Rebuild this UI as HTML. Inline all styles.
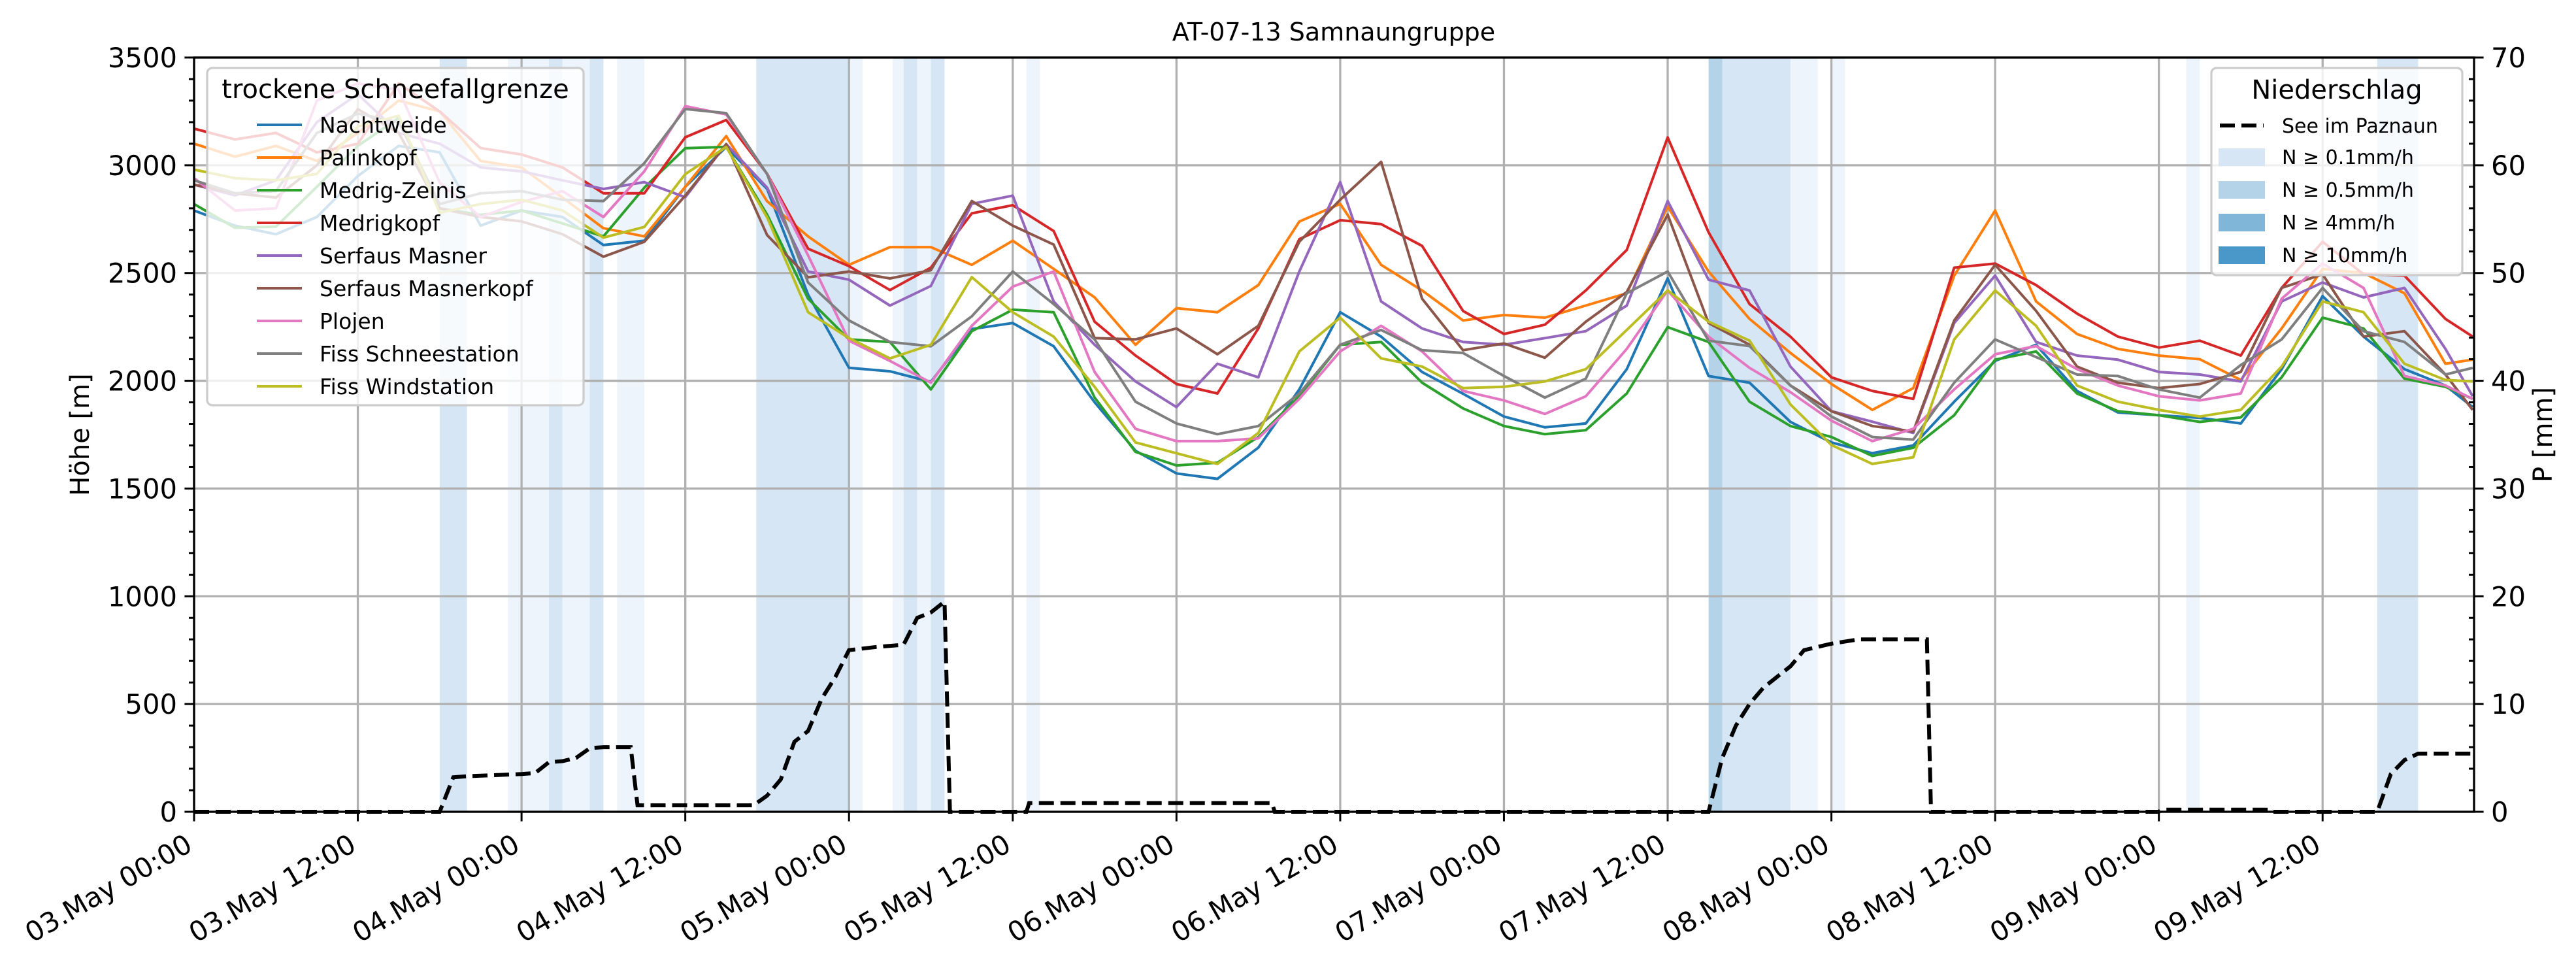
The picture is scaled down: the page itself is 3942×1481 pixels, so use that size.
<!DOCTYPE html>
<html><head><meta charset="utf-8">
<style>
html,body{margin:0;padding:0;background:#fff;}
svg{display:block;font-family:"DejaVu Sans","Liberation Sans",sans-serif;}
</style></head>
<body>
<svg id="chart" width="3942" height="1481" viewBox="0 0 3942 1481" xmlns="http://www.w3.org/2000/svg">
  <rect width="3942" height="1481" fill="#fff"/>
  <g id="bands"></g>
  <g id="grid"></g>
  <g id="series"></g>
  <g id="axes"></g>
  <text x="2041" y="62" font-size="38" text-anchor="middle">AT-07-13 Samnaungruppe</text>
  <text x="136" y="665" font-size="40" text-anchor="middle" transform="rotate(-90 136 665)">Höhe [m]</text>
  <text x="3905" y="665" font-size="40" text-anchor="middle" transform="rotate(-90 3905 665)">P [mm]</text>
  <g id="legend1"></g>
  <g id="legend2"></g>
</svg>
<script>
const hours = [0,3,6,9,12,15,18,21,24,27,30,33,36,39,42,45,48,51,54,57,60,63,66,69,72,75,78,81,84,87,90,93,96,99,102,105,108,111,114,117,120,123,126,129,132,135,138,141,144,147,150,153,156,159,162,165,167];
const stationNames = ["Nachtweide","Palinkopf","Medrig-Zeinis","Medrigkopf","Serfaus Masner","Serfaus Masnerkopf","Plojen","Fiss Schneestation","Fiss Windstation"];
const nachtweide = [2790,2720,2680,2760,2950,3090,3060,2720,2790,2760,2630,2650,2900,3085,2890,2400,2060,2044,1995,2240,2268,2160,1900,1675,1570,1545,1690,1960,2318,2205,2041,1940,1834,1784,1802,2054,2475,2022,1991,1809,1714,1664,1700,1903,2092,2167,1953,1853,1840,1828,1802,2054,2393,2205,2054,1978,1878];
const palinkopf = [3100,3040,3090,3020,3150,3300,3250,3020,2990,2850,2708,2670,2900,3135,2833,2670,2538,2620,2620,2538,2650,2519,2387,2167,2337,2318,2444,2739,2821,2538,2419,2280,2305,2293,2349,2406,2808,2507,2287,2129,1985,1865,1966,2488,2790,2368,2217,2148,2117,2100,2004,2243,2519,2500,2406,2079,2098];
const medrigZeinis = [2820,2710,2715,2900,3090,3220,2800,2770,2790,2730,2670,2896,3079,3085,2771,2381,2192,2180,1960,2230,2330,2318,1922,1670,1607,1620,1739,1928,2167,2180,1991,1872,1790,1752,1771,1941,2249,2180,1903,1790,1739,1651,1689,1840,2098,2136,1941,1859,1840,1809,1830,2016,2293,2243,2010,1972,1916];
const medrigkopf = [3170,3120,3150,3060,3100,3380,3250,3080,3050,2990,2870,2870,3130,3210,2960,2613,2532,2421,2525,2777,2815,2695,2274,2117,1985,1941,2243,2657,2745,2727,2626,2324,2217,2260,2419,2607,3129,2689,2356,2205,2016,1953,1916,2525,2544,2444,2312,2205,2154,2186,2117,2431,2645,2494,2488,2287,2205];
const serfausMasner = [2910,2860,2930,3200,3330,3150,3100,2990,2972,2930,2890,2922,2852,3098,2896,2507,2469,2349,2440,2821,2859,2368,2167,1997,1878,2079,2016,2507,2922,2368,2243,2180,2167,2198,2230,2349,2834,2469,2419,2066,1859,1810,1758,2268,2488,2180,2117,2098,2041,2029,1997,2368,2456,2387,2431,2148,1928];
const serfausMasnerkopf = [2910,2870,2850,3000,3260,3150,2800,2760,2740,2680,2576,2645,2859,3098,2676,2480,2507,2475,2513,2834,2720,2632,2198,2192,2243,2123,2255,2645,2840,3016,2381,2142,2173,2107,2274,2412,2771,2268,2167,1978,1859,1790,1765,2280,2538,2324,2066,1991,1966,1985,2041,2431,2494,2205,2230,2029,1865];
const plojen = [2940,2790,2800,3300,3380,3350,2920,2760,2830,2880,2760,2972,3274,3236,2959,2582,2186,2092,1991,2255,2437,2507,2041,1777,1720,1720,1733,1916,2136,2255,2136,1953,1909,1846,1928,2148,2419,2205,2060,1947,1815,1720,1777,1960,2123,2161,2054,1978,1928,1909,1941,2381,2544,2431,2022,1978,1916];
const fissSchnee = [2930,2870,2880,3150,3240,3200,2820,2870,2880,2840,2834,3010,3261,3242,2959,2456,2280,2180,2160,2299,2507,2356,2192,1903,1802,1752,1790,1941,2167,2236,2142,2129,2022,1922,2010,2406,2507,2186,2161,1978,1834,1739,1727,1991,2192,2110,2029,2022,1960,1922,2073,2192,2431,2230,2180,2029,2060];
const fissWind = [2980,2940,2930,2960,3180,3230,2780,2820,2840,2790,2664,2714,2959,3085,2758,2318,2198,2104,2167,2481,2318,2205,1972,1714,1664,1614,1758,2136,2293,2104,2066,1966,1972,1997,2054,2236,2419,2274,2186,1890,1702,1614,1645,2192,2419,2255,1978,1903,1865,1834,1865,2066,2368,2318,2079,2004,1997];
const seriesValues = [nachtweide,palinkopf,medrigZeinis,medrigkopf,serfausMasner,serfausMasnerkopf,plojen,fissSchnee,fissWind];
const colors = ["#1f77b4","#ff7f0e","#2ca02c","#d62728","#9467bd","#8c564b","#e377c2","#7f7f7f","#bcbd22"];
const precipHours = [0,18,19,20,24,25,26,27,28,29,30,31,32,32.5,41,42,43,44,45,46,47,48,50,52,53,54,55,55.4,61,61.2,79,79.2,111,112,113,114,115,116,117,118,120,122,127,127.3,144,144.2,152,152.2,160,161,162,163,167];
const precipSum = [0,0,3.2,3.3,3.5,3.6,4.6,4.7,5,5.9,6,6,6,0.6,0.6,1.5,3,6.5,7.5,10.5,12.5,15,15.3,15.5,18,18.5,19.5,0,0,0.8,0.8,0,0,5,8,10,11.5,12.5,13.5,15,15.6,16,16,0,0,0.2,0.2,0,0,3.5,4.8,5.4,5.4];
const bandStart = [18,23,26,27,29,31,41.2,48.1,51.2,52,53,54,61,111,112,117,120,146,160];
const bandEnd   = [20,26,27,29,30,33,48.1,49,52,53,54,55,62,112,117,119,121,147,163];
const bandLevel = [1,0,1,0,1,0,1,0,0,1,0,1,0,2,1,0,0,0,1];
const xTickLabels = ["03.May 00:00","03.May 12:00","04.May 00:00","04.May 12:00","05.May 00:00","05.May 12:00","06.May 00:00","06.May 12:00","07.May 00:00","07.May 12:00","08.May 00:00","08.May 12:00","09.May 00:00","09.May 12:00"];
const yTicks = [0,500,1000,1500,2000,2500,3000,3500];
const y2Ticks = [0,10,20,30,40,50,60,70];

const NS="http://www.w3.org/2000/svg";
const L=297,R=3786,T=88,B=1242,HMAX=167.1;
const xS=h=>L+(h/HMAX)*(R-L);
const yS=v=>B-(v/3500)*(B-T);
const y2S=v=>B-(v/70)*(B-T);
function mk(tag,attrs,parent){const e=document.createElementNS(NS,tag);for(const k in attrs)e.setAttribute(k,attrs[k]);parent.appendChild(e);return e;}
const bandColors=["#eef4fb","#d6e6f4","#b4d3e9","#80b7d8","#4a98c9"];

const gB=document.getElementById('bands');
bandStart.forEach((s,i)=>{
  const r=mk('rect',{x:xS(s),y:T,width:xS(bandEnd[i])-xS(s),height:B-T,fill:bandColors[bandLevel[i]]},gB);
  
  
});

const gG=document.getElementById('grid');
xTickLabels.forEach((t,i)=>{const x=xS(i*12);mk('line',{x1:x,x2:x,y1:T,y2:B,stroke:'#b0b0b0','stroke-width':3.3},gG);});
yTicks.forEach(v=>{const y=yS(v);mk('line',{x1:L,x2:R,y1:y,y2:y,stroke:'#b0b0b0','stroke-width':3.3},gG);});

const gS=document.getElementById('series');
seriesValues.forEach((vals,si)=>{
  const d=vals.map((v,i)=>(i?'L':'M')+xS(hours[i]).toFixed(1)+','+yS(v).toFixed(1)).join(' ');
  const p=mk('path',{d:d,fill:'none',stroke:colors[si],'stroke-width':4,'stroke-linejoin':'round'},gS);
  
  
});
const pd=precipSum.map((v,i)=>(i?'L':'M')+xS(precipHours[i]).toFixed(1)+','+y2S(v).toFixed(1)).join(' ');
const pp=mk('path',{d:pd,fill:'none',stroke:'#000','stroke-width':6,'stroke-dasharray':'23,10'},gS);



const gA=document.getElementById('axes');
mk('rect',{x:L,y:T,width:R-L,height:B-T,fill:'none',stroke:'#000','stroke-width':3.3},gA);
for(let v=0;v<=3500;v+=100){const y=yS(v);mk('line',{x1:L,x2:L-(v%500?8:14.6),y1:y,y2:y,stroke:'#000','stroke-width':3},gA);}
for(let v=0;v<=70;v+=2){const y=y2S(v);mk('line',{x1:R,x2:R+(v%10?-8:14.6),y1:y,y2:y,stroke:'#000','stroke-width':3},gA);}
yTicks.forEach(v=>{const t=mk('text',{x:L-26,y:yS(v)+15,'font-size':41.7,'text-anchor':'end'},gA);t.textContent=v;
  });
y2Ticks.forEach(v=>{const t=mk('text',{x:R+26,y:y2S(v)+15,'font-size':41.7},gA);t.textContent=v;
  });
xTickLabels.forEach((s,i)=>{const x=xS(i*12);
  mk('line',{x1:x,x2:x,y1:B,y2:B+14.6,stroke:'#000','stroke-width':3},gA);
  const t=mk('text',{x:0,y:0,'font-size':41.7,'text-anchor':'end',transform:`translate(${x},${B+58}) rotate(-30)`},gA);t.textContent=s;
  });

const g1=document.getElementById('legend1');
mk('rect',{x:317,y:104,width:576,height:516,rx:8,fill:'#fff','fill-opacity':0.8,stroke:'#cccccc','stroke-width':3.3},g1);
const t1=mk('text',{x:605,y:150,'font-size':40,'text-anchor':'middle'},g1);t1.textContent='trockene Schneefallgrenze';
stationNames.forEach((n,i)=>{const y=191+i*50;
  mk('line',{x1:393,x2:462,y1:y,y2:y,stroke:colors[i],'stroke-width':4},g1);
  const t=mk('text',{x:489,y:y+12,'font-size':33},g1);t.textContent=n;
  });

const g2=document.getElementById('legend2');
mk('rect',{x:3384,y:104,width:384,height:317,rx:8,fill:'#fff','fill-opacity':0.8,stroke:'#cccccc','stroke-width':3.3},g2);
const t2=mk('text',{x:3576,y:151,'font-size':40,'text-anchor':'middle'},g2);t2.textContent='Niederschlag';
mk('line',{x1:3397,x2:3464,y1:192,y2:192,stroke:'#000','stroke-width':6,'stroke-dasharray':'23,10'},g2);
const ts=mk('text',{x:3492,y:203,'font-size':30},g2);ts.textContent='See im Paznaun';

const pl=["N ≥ 0.1mm/h","N ≥ 0.5mm/h","N ≥ 4mm/h","N ≥ 10mm/h"];
pl.forEach((s,i)=>{const y=240+i*50;
  mk('rect',{x:3395,y:y-13,width:71,height:27,fill:bandColors[i+1]},g2);
  const t=mk('text',{x:3492,y:y+11,'font-size':30},g2);t.textContent=s;
  });
</script>
</body></html>
